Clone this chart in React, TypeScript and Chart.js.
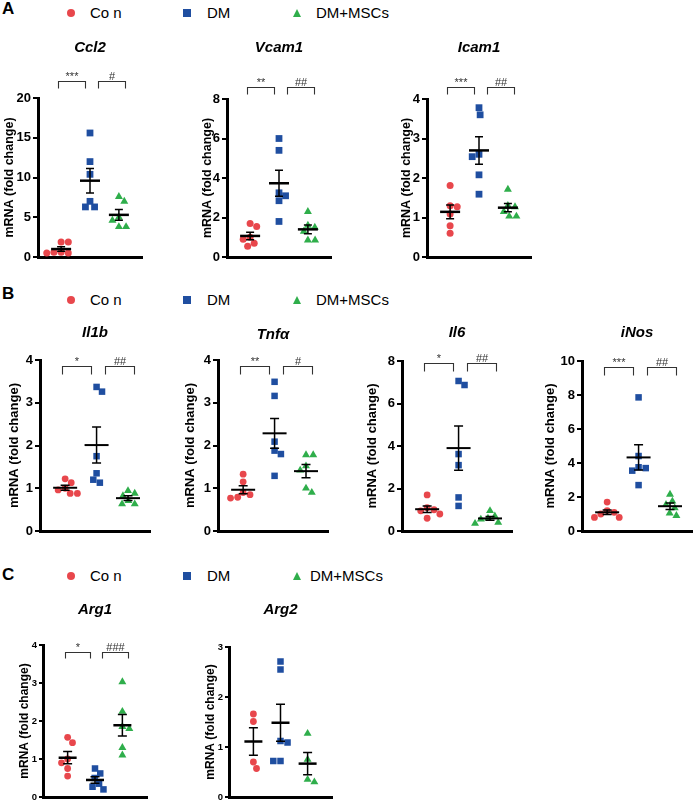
import React, { useEffect, useRef } from "react";
import { Chart, registerables } from "chart.js";

Chart.register(...registerables);

const FONT = '"Liberation Sans", Arial, Helvetica, sans-serif';

// ---------- data ----------
const groupNames = ["Co n", "DM", "DM+MSCs"];
const groupColors = ["#e8474c", "#1f4ea0", "#2fae4b"];

const ccl2Con = [1.9, 1.9, 0.6, 0.5, 0.6, 0.5];
const ccl2Dm = [15.6, 12.0, 10.4, 7.0, 6.3, 6.3];
const ccl2Msc = [7.6, 7.0, 5.0, 4.6, 3.8, 3.8];
const ccl2Sig = ["***", "#"];

const vcam1Con = [1.7, 1.55, 1.0, 0.9, 0.7, 0.55];
const vcam1Dm = [6.0, 5.4, 3.25, 3.1, 2.85, 1.8];
const vcam1Msc = [2.3, 1.6, 1.5, 1.3, 0.85, 0.85];
const vcam1Sig = ["**", "##"];

const icam1Con = [1.81, 1.3, 1.27, 1.09, 0.79, 0.6];
const icam1Dm = [3.78, 3.6, 2.6, 2.54, 2.08, 1.59];
const icam1Msc = [1.71, 1.3, 1.27, 1.15, 1.03, 1.03];
const icam1Sig = ["***", "##"];

const il1bCon = [1.22, 1.13, 1.0, 0.96, 0.88, 0.88];
const il1bDm = [3.37, 3.26, 1.75, 1.35, 1.2, 1.13];
const il1bMsc = [0.94, 0.88, 0.82, 0.71, 0.63, 0.63];
const il1bSig = ["*", "##"];

const tnfaCon = [1.33, 1.15, 0.9, 0.85, 0.79, 0.77];
const tnfaDm = [3.49, 3.16, 2.09, 1.88, 1.8, 1.29];
const tnfaMsc = [1.78, 1.78, 1.52, 1.42, 1.0, 0.9];
const tnfaSig = ["**", "#"];

const il6Con = [1.7, 1.1, 1.0, 0.95, 0.8, 0.6];
const il6Dm = [7.06, 6.87, 3.62, 3.1, 1.58, 1.18];
const il6Msc = [0.95, 0.7, 0.6, 0.55, 0.4, 0.35];
const il6Sig = ["*", "##"];

const inosCon = [1.7, 1.2, 1.1, 1.0, 0.8, 0.8];
const inosDm = [7.86, 4.41, 3.75, 3.7, 3.55, 2.7];
const inosMsc = [2.15, 1.75, 1.55, 1.35, 1.05, 0.9];
const inosSig = ["***", "##"];

const arg1Con = [1.57, 1.43, 1.0, 0.9, 0.75, 0.55];
const arg1Dm = [0.75, 0.62, 0.5, 0.35, 0.27, 0.2];
const arg1Msc = [3.03, 2.25, 1.85, 1.8, 1.3, 1.1];
const arg1Sig = ["*", "###"];

const arg2Con = [1.66, 1.51, 0.7, 0.57];
const arg2Dm = [2.71, 2.55, 1.12, 1.09, 0.72, 0.72];
const arg2Msc = [1.27, 0.75, 0.35, 0.3];
const arg2Sig: string[] = [];

const yAxisTitle = "mRNA (fold change)";

// ---------- layout / styles ----------
const panelStyles: Record<string, any> = {
  A: { xMin: 0.2, xMax: 3.8, tickFont: 13, yTitleFont: 12.5, titleFont: 15, meanW: 20, capW: 8, meanLW: 2.5, semLW: 1.5, tickLen: 5, legLen: 7, starFont: 11, rC: 3.5, rR: 4.8, rT: 4.6, gap: 7.2 },
  B: { xMin: 0.2, xMax: 3.7, tickFont: 13, yTitleFont: 13, titleFont: 15, meanW: 24, capW: 9, meanLW: 2, semLW: 1.5, tickLen: 5, legLen: 8, starFont: 11, rC: 3.4, rR: 4.6, rT: 4.6, gap: 7.2 },
  C: { xMin: 0.1, xMax: 3.9, tickFont: 9.5, yTitleFont: 12, titleFont: 15, meanW: 18, capW: 9, meanLW: 2.5, semLW: 1.5, tickLen: 4, legLen: 6, starFont: 11, rC: 3.4, rR: 4.6, rT: 4.6, gap: 7.2 },
};

const bracketSpans = [
  [0.9, 1.82],
  [2.27, 3.2],
];

const charts = [
  { gene: "Ccl2", panel: "A", con: ccl2Con, dm: ccl2Dm, msc: ccl2Msc, sig: ccl2Sig, yMax: 20, yStep: 5, L: 38, T: 98, R: 142, B: 257, bracketY: -17, titleY: -50, yTitleOff: 28 },
  { gene: "Vcam1", panel: "A", con: vcam1Con, dm: vcam1Dm, msc: vcam1Msc, sig: vcam1Sig, yMax: 8, yStep: 2, L: 227, T: 99, R: 331, B: 257, bracketY: -12, titleY: -51, yTitleOff: 19 },
  { gene: "Icam1", panel: "A", con: icam1Con, dm: icam1Dm, msc: icam1Msc, sig: icam1Sig, yMax: 4, yStep: 1, L: 427, T: 99, R: 531, B: 257, bracketY: -12, titleY: -51, yTitleOff: 20 },
  { gene: "Il1b", panel: "B", con: il1bCon, dm: il1bDm, msc: il1bMsc, sig: il1bSig, yMax: 4, yStep: 1, L: 40, T: 360, R: 150, B: 531, bracketY: 6, titleY: -27, yTitleOff: 26 },
  { gene: "Tnfα", panel: "B", con: tnfaCon, dm: tnfaDm, msc: tnfaMsc, sig: tnfaSig, yMax: 4, yStep: 1, L: 218, T: 360, R: 328, B: 531, bracketY: 6, titleY: -25, yTitleOff: 28 },
  { gene: "Il6", panel: "B", con: il6Con, dm: il6Dm, msc: il6Msc, sig: il6Sig, yMax: 8, yStep: 2, L: 402, T: 361, R: 512, B: 531, bracketY: 2, titleY: -28, yTitleOff: 30 },
  { gene: "iNos", panel: "B", con: inosCon, dm: inosDm, msc: inosMsc, sig: inosSig, yMax: 10, yStep: 2, L: 582, T: 361, R: 692, B: 531, bracketY: 6, titleY: -28, yTitleOff: 32 },
  { gene: "Arg1", panel: "C", con: arg1Con, dm: arg1Dm, msc: arg1Msc, sig: arg1Sig, yMax: 4, yStep: 1, L: 43, T: 645, R: 147, B: 797, bracketY: 7, titleY: -35, yTitleOff: 18 },
  { gene: "Arg2", panel: "C", con: arg2Con, dm: arg2Dm, msc: arg2Msc, sig: arg2Sig, yMax: 3, yStep: 1, L: 229, T: 647, R: 332, B: 797, bracketY: 7, titleY: -37, yTitleOff: 18 },
];

const legendRows = [
  { letter: "A", y: 13, letterTop: 0, texts: [90, 207, 316] },
  { letter: "B", y: 300, letterTop: 285, texts: [90, 207, 316] },
  { letter: "C", y: 576, letterTop: 566, texts: [90, 207, 310] },
];
const legendMarkerX = [71, 187, 297];

// ---------- helpers ----------
function swarm(vals: number[], pxPerY: number, d: number): number[] {
  const order = vals.map((_, i) => i).sort((a, b) => vals[b] - vals[a]);
  const placed: { x: number; y: number }[] = [];
  const out = new Array(vals.length).fill(0);
  let side = -1;
  for (const i of order) {
    const y = vals[i] * pxPerY;
    const cands = [0];
    for (const p of placed) {
      const dy = Math.abs(p.y - y);
      if (dy < d) {
        const dx = Math.sqrt(d * d - dy * dy);
        cands.push(p.x + dx, p.x - dx);
      }
    }
    cands.sort((a, b) => Math.abs(a) - Math.abs(b) || (a - b) * side);
    let best = 0;
    for (const c of cands) {
      if (placed.every((p) => (p.x - c) ** 2 + (p.y - y) ** 2 >= d * d - 0.01)) {
        best = c;
        break;
      }
    }
    if (best !== 0) side = -side;
    placed.push({ x: best, y });
    out[i] = best;
  }
  return out;
}

function meanSem(vals: number[]) {
  const n = vals.length;
  const mean = vals.reduce((a, b) => a + b, 0) / n;
  const sd = Math.sqrt(vals.reduce((a, b) => a + (b - mean) ** 2, 0) / (n - 1));
  return { mean, sem: sd / Math.sqrt(n) };
}

const PADL = 60;
const PADT = 80;
const PADR = 12;
const PADB = 12;
const pointStyles = ["circle", "rect", "triangle"];

function ChartPanel({ spec }: { spec: any }) {
  const ref = useRef<HTMLCanvasElement>(null);
  const st = panelStyles[spec.panel];
  const w = spec.R - spec.L + PADL + PADR;
  const h = spec.B - spec.T + PADT + PADB;

  useEffect(() => {
    const canvas = ref.current!;
    const plotW = spec.R - spec.L;
    const plotH = spec.B - spec.T;
    const pxPerX = plotW / (st.xMax - st.xMin);
    const pxPerY = plotH / spec.yMax;
    const series = [spec.con, spec.dm, spec.msc];
    const radii = [st.rC, st.rR, st.rT];
    const datasets = series.map((vals: number[], gi: number) => {
      const offs = swarm(vals, pxPerY, st.gap);
      return {
        label: groupNames[gi],
        data: vals.map((v, i) => ({ x: gi + 1 + offs[i] / pxPerX, y: v })),
        pointStyle: pointStyles[gi],
        pointRadius: radii[gi],
        pointBackgroundColor: groupColors[gi],
        backgroundColor: groupColors[gi],
        pointBorderWidth: 0,
        borderWidth: 0,
        clip: false as any,
      };
    });
    const stats = series.map((v: number[]) => meanSem(v));

    const decor = {
      id: "decor",
      afterDatasetsDraw(chart: any) {
        const { ctx, scales } = chart;
        const xs = scales.x;
        const ys = scales.y;
        ctx.save();
        ctx.strokeStyle = "#000";
        stats.forEach((s: any, gi: number) => {
          const cx = xs.getPixelForValue(gi + 1);
          const ym = ys.getPixelForValue(s.mean);
          const yt = ys.getPixelForValue(s.mean + s.sem);
          const yb = ys.getPixelForValue(Math.max(0, s.mean - s.sem));
          ctx.lineWidth = st.semLW;
          ctx.beginPath();
          ctx.moveTo(cx, yt);
          ctx.lineTo(cx, yb);
          ctx.moveTo(cx - st.capW / 2, yt);
          ctx.lineTo(cx + st.capW / 2, yt);
          ctx.moveTo(cx - st.capW / 2, yb);
          ctx.lineTo(cx + st.capW / 2, yb);
          ctx.stroke();
          ctx.lineWidth = st.meanLW;
          ctx.beginPath();
          ctx.moveTo(cx - st.meanW / 2, ym);
          ctx.lineTo(cx + st.meanW / 2, ym);
          ctx.stroke();
        });
        ctx.restore();
      },
      afterDraw(chart: any) {
        const { ctx, chartArea: ca, scales } = chart;
        const xs = scales.x;
        ctx.save();
        // brackets
        spec.sig.forEach((label: string, bi: number) => {
          const [a, b] = bracketSpans[bi];
          const x1 = Math.round(xs.getPixelForValue(a)) + 0.5;
          const x2 = Math.round(xs.getPixelForValue(b)) + 0.5;
          const y0 = Math.round(ca.top + spec.bracketY) + 0.5;
          ctx.strokeStyle = "#333";
          ctx.lineWidth = 1.1;
          ctx.beginPath();
          ctx.moveTo(x1, y0 + st.legLen);
          ctx.lineTo(x1, y0);
          ctx.lineTo(x2, y0);
          ctx.lineTo(x2, y0 + st.legLen);
          ctx.stroke();
          ctx.fillStyle = "#333";
          ctx.font = `${st.starFont}px ${FONT}`;
          ctx.textAlign = "center";
          ctx.textBaseline = "alphabetic";
          ctx.fillText(label, (x1 + x2) / 2, y0 - 2);
        });
        // gene title
        ctx.fillStyle = "#000";
        ctx.font = `italic bold ${st.titleFont}px ${FONT}`;
        ctx.textAlign = "center";
        ctx.textBaseline = "middle";
        ctx.fillText(spec.gene, (ca.left + ca.right) / 2, ca.top + spec.titleY);
        // y axis title
        ctx.translate(ca.left - spec.yTitleOff, (ca.top + ca.bottom) / 2);
        ctx.rotate(-Math.PI / 2);
        ctx.font = `bold ${st.yTitleFont}px ${FONT}`;
        ctx.fillText(yAxisTitle, 0, 0);
        ctx.restore();
      },
    };

    const chart = new Chart(canvas, {
      type: "scatter",
      data: { datasets: datasets as any },
      options: {
        animation: false,
        responsive: false,
        events: [],
        layout: { padding: { left: 0, top: PADT, right: PADR, bottom: PADB } },
        plugins: { legend: { display: false }, tooltip: { enabled: false }, title: { display: false } },
        scales: {
          x: {
            type: "linear",
            min: st.xMin,
            max: st.xMax,
            ticks: { display: false },
            grid: { display: false },
            border: { display: true, color: "#000", width: 3 },
            afterFit: (s: any) => {
              s.height = 0;
            },
          },
          y: {
            type: "linear",
            min: 0,
            max: spec.yMax,
            ticks: {
              stepSize: spec.yStep,
              color: "#000",
              padding: 2,
              font: { family: FONT, size: st.tickFont, weight: "bold" },
            },
            grid: {
              display: true,
              drawOnChartArea: false,
              drawTicks: true,
              tickLength: st.tickLen,
              color: "#000",
              lineWidth: 2,
            },
            border: { display: true, color: "#000", width: 3 },
            afterFit: (s: any) => {
              s.width = PADL;
            },
          },
        },
      } as any,
      plugins: [decor],
    });
    return () => chart.destroy();
  }, []);

  return (
    <canvas
      ref={ref}
      width={w}
      height={h}
      style={{ position: "absolute", left: spec.L - PADL, top: spec.T - PADT, width: w, height: h }}
    />
  );
}

function LegendRow({ row }: { row: any }) {
  const textStyle = (x: number): React.CSSProperties => ({
    position: "absolute",
    left: x,
    top: row.y - 9,
    height: 18,
    lineHeight: "18px",
    fontSize: 15,
    fontFamily: FONT,
    color: "#000",
    whiteSpace: "nowrap",
  });
  return (
    <>
      <div
        style={{
          position: "absolute",
          left: 2,
          top: row.letterTop,
          fontFamily: FONT,
          fontWeight: "bold",
          fontSize: 17,
          lineHeight: "18px",
        }}
      >
        {row.letter}
      </div>
      <div
        style={{
          position: "absolute",
          left: legendMarkerX[0] - 4,
          top: row.y - 4,
          width: 8,
          height: 8,
          borderRadius: "50%",
          background: groupColors[0],
        }}
      />
      <div
        style={{
          position: "absolute",
          left: legendMarkerX[1] - 4,
          top: row.y - 4,
          width: 8,
          height: 8,
          background: groupColors[1],
        }}
      />
      <div
        style={{
          position: "absolute",
          left: legendMarkerX[2] - 4.5,
          top: row.y - 4,
          width: 0,
          height: 0,
          borderLeft: "4.5px solid transparent",
          borderRight: "4.5px solid transparent",
          borderBottom: `8px solid ${groupColors[2]}`,
        }}
      />
      {groupNames.map((g, i) => (
        <div key={g} style={textStyle(row.texts[i])}>
          {g}
        </div>
      ))}
    </>
  );
}

export default function App() {
  return (
    <div style={{ position: "absolute", left: 0, top: 0, width: 698, height: 802, background: "#fff", overflow: "hidden" }}>
      {legendRows.map((r) => (
        <LegendRow key={r.letter} row={r} />
      ))}
      {charts.map((c) => (
        <ChartPanel key={c.gene} spec={c} />
      ))}
    </div>
  );
}
